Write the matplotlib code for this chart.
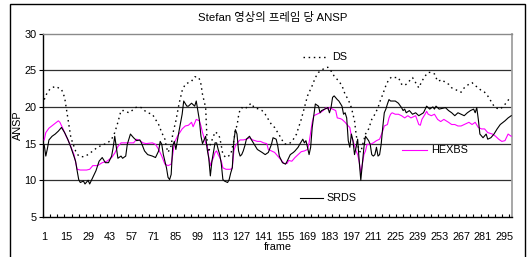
import matplotlib
matplotlib.use("Agg")
import matplotlib.pyplot as plt
from matplotlib.patches import Rectangle
from matplotlib.lines import Line2D
import numpy as np

plt.rcParams['font.family'] = ['Liberation Sans', 'Noto Sans CJK KR', 'DejaVu Sans']

title = "Stefan 영상의 프레임 당 ANSP"
x_label = "frame"
y_label = "ANSP"
series_names = ["DS", "HEXBS", "SRDS"]

ds_frames = [1, 3, 5, 8, 10, 12, 14, 16, 18, 21, 23, 26, 29, 32, 35, 39, 41, 44, 46, 48, 50, 52, 55, 57, 59, 61, 63, 65, 67, 70,
             72, 74, 76, 78, 79, 80, 82, 83, 85, 87, 89, 91, 93, 95, 97, 99, 100, 101, 102, 103, 104, 105, 106, 107, 109, 110,
             112, 113, 114, 115, 117, 120, 122, 123, 124, 125, 126, 127, 129, 131, 133, 135, 138, 140, 142, 144, 146, 148, 150,
             152, 154, 156, 158, 160, 162, 163, 165, 167, 169, 172, 174, 176, 178, 180, 182, 184, 186, 189, 191, 193, 195, 197,
             198, 199, 200, 201, 202, 203, 204, 206, 208, 210, 212, 214, 215, 217, 219, 221, 223, 225, 227, 229, 231, 233, 236,
             238, 240, 242, 244, 246, 248, 250, 252, 255, 257, 259, 261, 263, 265, 267, 269, 272, 274, 276, 278, 280, 282, 284,
             286, 288, 290, 292, 294, 296, 298, 299]
ds_values = [21.0, 22.0, 22.5, 22.8, 22.6, 22.4, 21.3, 18.5, 15.8, 14.0, 13.3, 13.2, 13.5, 14.0, 14.5, 14.9, 15.0, 15.6, 16.5, 17.9,
             19.5, 19.5, 19.2, 19.5, 19.9, 20.0, 19.9, 19.5, 19.2, 19.0,
             18.3, 17.6, 16.5, 15.6, 14.5, 13.8, 14.7, 16.3, 18.1, 20.4, 22.2, 23.1, 23.3, 23.5, 24.1, 24.1, 23.8, 23.1, 21.7, 20.8,
             19.9, 14.9, 13.8, 14.9, 16.0, 16.6,
             16.3, 15.8, 14.7, 13.5, 13.1, 13.5, 15.4, 17.0, 17.4, 18.8, 19.7, 19.9, 19.7, 20.1, 20.5, 19.9, 19.7, 19.5, 19.0, 18.3,
             17.6, 17.2, 16.5,
             15.8, 15.0, 14.9, 15.1, 15.6, 16.3, 17.0, 18.3, 19.9, 21.5, 22.9, 24.0, 24.7, 25.0, 25.3, 25.4, 24.9, 24.2, 23.5, 22.9,
             21.7, 21.0, 19.9,
             19.0, 18.1, 16.3, 14.9, 14.0, 13.8, 14.7, 16.3, 17.0, 18.3, 19.0, 19.9, 20.6, 21.7, 22.9, 23.8, 24.1, 24.0, 24.0, 23.1,
             22.9, 23.3, 24.0,
             23.3, 22.6, 23.5, 24.2, 24.7, 24.7, 24.5, 23.5, 23.7, 23.3, 23.1, 22.6, 22.4, 22.2, 22.0, 22.6, 23.1, 23.3, 22.9, 22.6,
             22.2, 22.0, 21.5,
             20.8, 20.1, 19.8, 19.7, 20.1, 20.6, 21.2, 21.3]

hexbs_frames = [1, 2, 4, 7, 10, 11, 13, 15, 17, 20, 22, 24, 28, 30, 32, 35, 38, 41, 44, 46, 48, 50, 54, 58, 60, 62, 64, 66, 70, 72,
                74, 76, 78, 80, 82, 83, 84, 86, 89, 91, 93, 95, 96, 98, 100, 101, 102, 104, 105, 106, 107, 108, 109, 110, 111,
                112, 113, 114, 115, 117, 120, 121, 122, 123, 124, 125, 126, 128, 130, 132, 134, 137, 139, 141, 143, 144, 146,
                148, 150, 152, 154, 156, 157, 159, 161, 163, 165, 167, 169, 170, 171, 172, 173, 175, 177, 179, 181, 182, 183,
                185, 187, 188, 190, 191, 193, 195, 196, 197, 198, 199, 200, 201, 202, 203, 204, 205, 206, 207, 209, 211, 213,
                215, 217, 218, 220, 221, 222, 223, 225, 227, 229, 231, 233, 235, 238, 240, 241, 242, 244, 245, 246, 248, 250,
                252, 254, 256, 259, 261, 263, 265, 267, 269, 272, 274, 276, 278, 280, 282, 284, 287, 289, 291, 293, 295, 297, 299]
hexbs_values = [15.5, 16.5, 17.1, 17.6, 18.1, 17.9, 17.0, 16.0, 15.1, 13.5, 11.5, 11.4, 11.4, 11.5, 12.0, 12.0, 12.4, 12.6, 13.1,
                13.7, 14.6, 15.1, 15.1, 15.1, 15.6, 15.4, 15.1, 15.0, 15.1, 14.9,
                14.2, 13.3, 12.2, 12.0, 12.2, 13.5, 15.1, 16.0, 17.0, 17.4, 17.5, 17.9, 17.3, 18.3, 18.1, 17.4, 16.5, 15.1, 14.7,
                13.1, 12.0, 12.6, 13.1, 13.8, 14.0,
                13.5, 13.1, 12.6, 11.7, 11.5, 11.5, 11.7, 14.0, 14.7, 15.0, 15.3, 15.5, 15.5, 15.6, 15.8, 15.5, 15.3, 15.3, 15.1,
                15.0, 14.2, 14.0,
                13.8, 13.3, 12.8, 12.3, 12.3, 12.7, 12.6, 13.1, 13.5, 13.9, 14.0, 14.2, 15.1, 16.5, 17.9, 18.8, 19.0, 19.2, 19.5,
                19.9, 19.7, 19.9,
                19.7, 19.5, 18.5, 18.4, 18.3, 17.9, 17.4, 17.2, 16.0, 15.4, 14.7, 14.0, 13.5, 12.5, 11.0, 12.2, 13.5, 14.0, 14.9,
                14.9, 15.1, 15.4,
                15.6, 16.7, 17.4, 17.6, 18.5, 19.0, 19.2, 19.0, 19.0, 18.8, 18.5, 18.8, 18.5, 18.8, 17.6, 17.5, 18.3, 19.0, 19.4,
                19.0, 18.8, 19.0,
                18.3, 18.0, 18.3, 17.9, 17.6, 17.6, 17.4, 17.4, 17.6, 17.9, 17.6, 17.9, 17.2, 17.0, 17.0, 16.5, 16.3, 16.0, 15.6,
                15.3, 15.4, 16.3, 16.0]

srds_frames = [1, 2, 3, 4, 6, 8, 10, 12, 14, 16, 18, 21, 22, 23, 24, 26, 27, 29, 30, 32, 34, 36, 38, 40, 42, 44, 45, 46, 47, 48,
               50, 51, 53, 54, 56, 58, 60, 62, 63, 65, 67, 70, 72, 74, 75, 76, 77, 79, 80, 81, 82, 83, 84, 85, 87, 89, 90, 92,
               93, 95, 97, 98, 100, 101, 102, 104, 105, 106, 107, 108, 110, 111, 112, 113, 114, 115, 116, 118, 119, 120, 121,
               122, 123, 124, 125, 126, 127, 128, 129, 130, 132, 133, 135, 137, 140, 142, 144, 146, 147, 149, 150, 151, 153,
               155, 156, 158, 160, 161, 163, 164, 166, 167, 168, 169, 170, 171, 172, 173, 174, 176, 177, 178, 180, 182, 183,
               184, 185, 186, 188, 189, 191, 192, 193, 194, 195, 196, 197, 198, 199, 200, 201, 202, 203, 204, 205, 206, 208,
               209, 210, 211, 212, 213, 214, 215, 216, 217, 218, 219, 220, 221, 222, 225, 227, 229, 230, 231, 232, 234, 236,
               238, 240, 243, 245, 246, 247, 249, 250, 251, 253, 255, 257, 259, 261, 263, 265, 267, 269, 271, 273, 275, 276,
               277, 278, 279, 281, 283, 284, 286, 288, 290, 292, 295, 297, 299]
srds_values = [14.8, 13.3, 14.3, 15.5, 16.0, 16.3, 16.7, 17.2, 16.5, 15.6, 14.5, 12.6, 11.3, 10.1, 9.7, 9.9, 9.5, 10.0, 9.5, 10.4,
               11.3, 12.6, 13.1, 12.4, 12.4, 13.3, 14.5, 16.0, 14.5, 13.0,
               13.3, 13.0, 13.3, 14.9, 16.3, 15.8, 15.4, 15.5, 15.1, 14.0, 13.5, 13.3, 13.1, 14.0, 15.3, 14.9, 13.5, 11.7, 10.4,
               10.1, 10.8, 14.7, 15.3, 14.2, 16.7, 19.0, 20.8, 20.1,
               20.1, 20.5, 20.1, 20.8, 18.2, 16.0, 15.0, 16.0, 14.2, 13.0, 10.6, 12.6, 15.1, 15.1, 14.2, 13.5, 12.2, 10.1, 9.9,
               9.7, 10.1, 11.0, 11.7,
               15.4, 16.9, 16.3, 14.0, 13.3, 13.5, 14.0, 14.7, 15.6, 16.0, 15.6, 14.9, 14.2, 13.8, 13.5, 13.8, 14.9, 15.8, 15.6,
               14.7, 13.3, 12.4,
               12.2, 12.6, 13.5, 13.8, 14.0, 14.5, 14.9, 15.6, 15.1, 15.4, 14.5, 13.5, 14.5, 17.2, 18.8, 20.4, 20.1, 19.2, 19.5,
               19.7, 19.9, 19.2,
               19.9, 21.3, 21.5, 21.0, 20.8, 20.1, 19.0, 19.2, 18.5, 15.4, 14.5, 16.3, 15.4, 13.5, 14.5, 15.6, 12.6, 10.0, 12.2,
               14.5, 16.0, 15.4,
               14.9, 13.5, 13.3, 13.5, 14.5, 13.3, 13.5, 14.9, 17.2, 19.2, 19.7, 20.4, 21.0, 20.8, 20.8, 20.5, 19.9, 19.5, 19.7,
               19.2, 19.5, 19.0,
               19.2, 18.8, 19.2, 20.1, 19.9, 19.7, 20.0, 19.7, 20.1, 19.7, 19.8, 19.9, 19.5, 19.2, 18.8, 19.2, 19.0, 18.8, 19.2,
               19.5, 19.7, 19.2,
               19.9, 18.3, 16.3, 15.8, 16.3, 15.6, 15.8, 16.3, 17.0, 17.6, 18.1, 18.5, 18.8]

y_ticks = [5, 10, 15, 20, 25, 30]
x_tick_labels = list(range(1, 300, 14))

W, H = 531, 257
fig = plt.figure(figsize=(W / 100, H / 100), dpi=100)

# chart-area border
fig.patches.append(Rectangle((10 / W, -0.02), 515 / W, 1 - 4 / H + 0.02, transform=fig.transFigure,
                             fill=False, edgecolor='black', linewidth=1.0))

ax_l, ax_r, ax_t, ax_b = 43.3, 511.7, 33.5, 217.0
ax = fig.add_axes([ax_l / W, 1 - ax_b / H, (ax_r - ax_l) / W, (ax_b - ax_t) / H])

for yv in y_ticks[1:-1]:
    ax.axhline(yv, color='#303030', lw=0.9, zorder=1)

ax.plot(ds_frames, ds_values, color='black', lw=1.0, linestyle=(0, (1.1, 2.6)), zorder=3)
ax.plot(hexbs_frames, hexbs_values, color='#FF00FF', lw=0.8, zorder=3)
ax.plot(srds_frames, srds_values, color='black', lw=0.8, zorder=4)

ax.set_xlim(0.4, 299.3)
ax.set_ylim(5, 30)
ax.set_yticks(y_ticks)
ax.set_xticks(x_tick_labels)
ax.set_xticks(np.arange(0.4, 299.3, 4.5), minor=True)
ax.tick_params(axis='y', direction='out', length=3, width=0.8, pad=2, labelsize=7.8, colors='black')
ax.tick_params(axis='x', which='major', direction='in', length=0, pad=11, labelsize=7.8)
ax.tick_params(axis='x', which='minor', direction='in', length=2.5, width=0.8)

ax.spines['left'].set_color('black')
ax.spines['bottom'].set_color('black')
ax.spines['left'].set_linewidth(1.0)
ax.spines['bottom'].set_linewidth(1.0)
ax.spines['top'].set_color('#8a8a8a')
ax.spines['right'].set_color('#a0a0a0')
ax.spines['top'].set_linewidth(1.0)
ax.spines['right'].set_linewidth(1.3)

ax.set_xlabel(x_label, fontsize=7.8, labelpad=0)
ax.set_ylabel(y_label, fontsize=7.8, labelpad=1)
fig.text(273 / W, 1 - 18 / H, title, ha='center', va='center', fontsize=8.2)

# in-plot legend labels
def leg(x0, x1, y, name, **kw):
    ax.add_line(Line2D([x0, x1], [y, y], transform=ax.transAxes, **kw))
    ax.text(x1 + 0.008, y, name, transform=ax.transAxes, ha='left', va='center', fontsize=7.8)

leg(0.554, 0.608, 0.872, series_names[0], color='black', lw=1.0, linestyle=(0, (1.1, 2.6)))
leg(0.766, 0.819, 0.367, series_names[1], color='#FF00FF', lw=0.8)
leg(0.548, 0.597, 0.104, series_names[2], color='black', lw=0.8)

fig.savefig("out.png", dpi=100)
